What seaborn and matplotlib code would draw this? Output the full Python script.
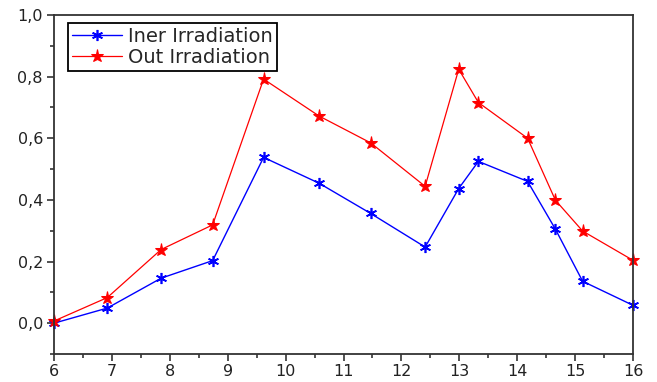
import matplotlib
matplotlib.use("Agg")
import matplotlib.pyplot as plt
import seaborn as sns
import pandas as pd
from matplotlib.ticker import MultipleLocator, FuncFormatter

hours = [6.0, 6.92, 7.85, 8.74, 9.62, 10.58, 11.47, 12.41, 12.99, 13.33, 14.18, 14.66, 15.13, 16.0]
iner = [0.0, 0.049, 0.146, 0.203, 0.538, 0.454, 0.356, 0.247, 0.437, 0.525, 0.460, 0.305, 0.136, 0.058]
out = [0.007, 0.083, 0.239, 0.319, 0.792, 0.672, 0.585, 0.444, 0.824, 0.716, 0.600, 0.399, 0.299, 0.204]
series_names = ["Iner Irradiation", "Out Irradiation"]

sns.set_style("white")
plt.rcParams["font.family"] = ["DejaVu Sans"]

fig = plt.figure(figsize=(6.57, 3.82), dpi=100)
ax = fig.add_axes([54/657, 1-354/382, 579/657, 339/382])

df_in = pd.DataFrame({"x": hours, "y": iner})
df_out = pd.DataFrame({"x": hours, "y": out})
sns.lineplot(data=df_in, x="x", y="y", ax=ax, color="#0000ff", lw=1.0,
             marker=(6, 2, 0), markersize=8, markeredgewidth=1.2,
             markeredgecolor="#0000ff", label=series_names[0], clip_on=False)
sns.lineplot(data=df_out, x="x", y="y", ax=ax, color="#ff0000", lw=0.9,
             marker="*", markersize=9.5, markeredgecolor="#ff0000",
             label=series_names[1], clip_on=False)

ax.set_xlim(6, 16)
ax.set_ylim(-0.1, 1.0)
ax.xaxis.set_major_locator(MultipleLocator(1))
ax.xaxis.set_minor_locator(MultipleLocator(0.5))
ax.yaxis.set_major_locator(MultipleLocator(0.2))
ax.yaxis.set_minor_locator(MultipleLocator(0.1))
ax.yaxis.set_major_formatter(FuncFormatter(lambda v, p: f"{v:.1f}".replace(".", ",").replace("-0,0", "0,0")))
ax.xaxis.set_major_formatter(FuncFormatter(lambda v, p: f"{int(round(v))}"))
ax.tick_params(axis="both", which="major", direction="out", length=5, width=1.2,
               labelsize=11.5, colors="#333333", labelcolor="#222222", pad=3,
               bottom=True, left=True, top=False, right=False)
ax.tick_params(axis="x", which="major", pad=2)
ax.tick_params(axis="both", which="minor", direction="out", length=3, width=1.2,
               colors="#333333", bottom=True, left=True, top=False, right=False)
for s in ax.spines.values():
    s.set_color("#333333")
    s.set_linewidth(1.3)
ax.set_xlabel("")
ax.set_ylabel("")

leg = ax.legend(loc="upper left", bbox_to_anchor=(0.024, 0.976), fontsize=14,
                frameon=True, fancybox=False, edgecolor="black", framealpha=1,
                borderpad=0.2, handlelength=2.6, handletextpad=0.3, labelspacing=0.1,
                borderaxespad=0)
leg.get_frame().set_linewidth(1.3)

fig.savefig("out.png", dpi=100)
